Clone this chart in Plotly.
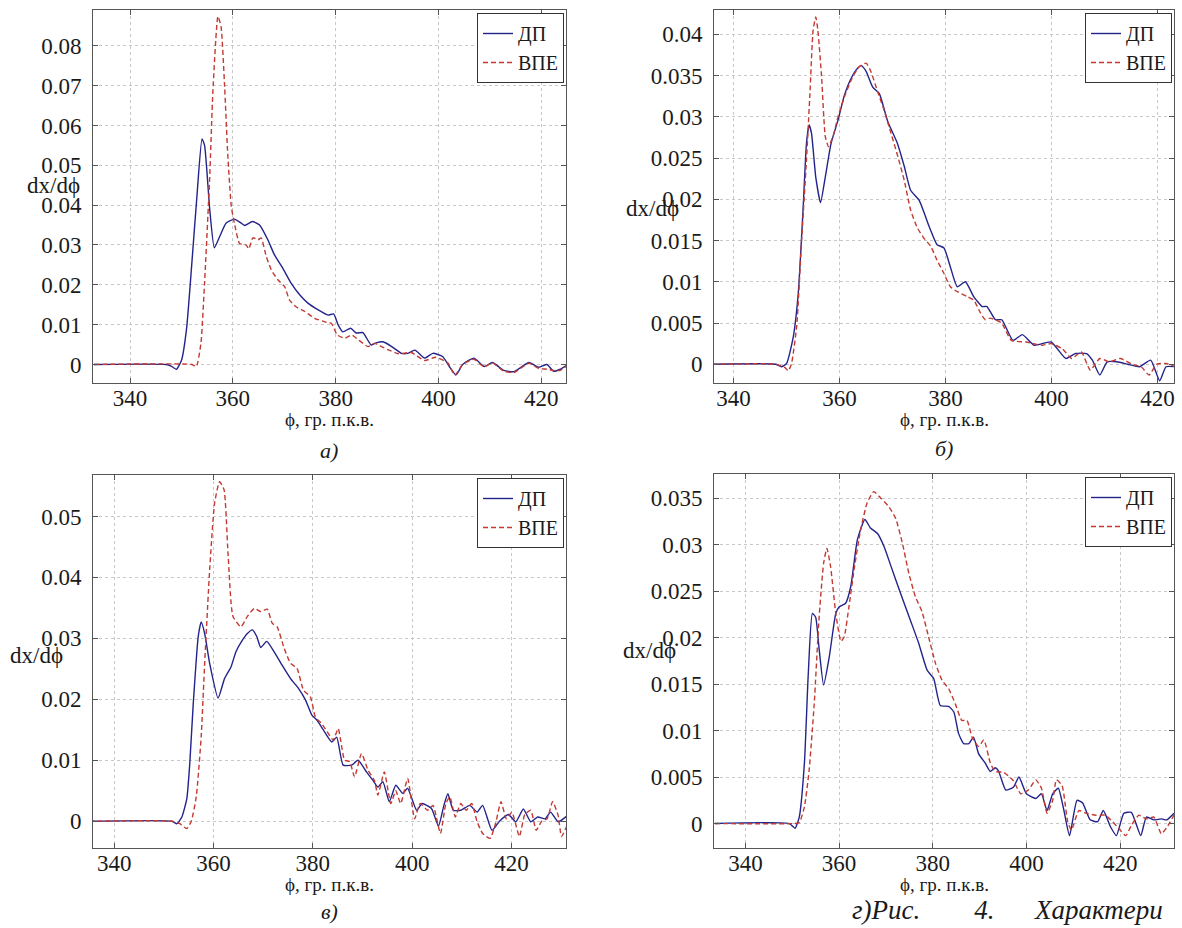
import plotly.graph_objects as go

# ---------------- data ----------------
# panel а)
phi_a_dp = [333, 347, 348, 349, 350, 351, 352, 353, 354, 354.5, 355.5, 356.4, 357.4, 358.7, 360.3, 361.5, 362.3,
            363.8, 365.2, 366.8, 368.1, 369.7, 371.3, 373, 374.6, 376.6, 378.5, 379.6, 380.5, 381.4, 382.9, 384,
            385.3, 386.9, 388, 389.2, 390.9, 392.8, 394, 395.4, 397.3, 398.9, 400.8, 402.1, 403.4, 404.7, 406.9,
            408.9, 410.5, 412.7, 414.7, 417.6, 419.5, 421.1, 422.4, 423.7, 424.8]
val_a_dp = [0, 0, -0.0004, -0.0012, 0.001, 0.009, 0.025, 0.042, 0.0566, 0.055, 0.039, 0.0293, 0.032, 0.0355,
            0.0365, 0.0356, 0.0349, 0.0359, 0.035, 0.0313, 0.0275, 0.0242, 0.0205, 0.0175, 0.0154, 0.0137, 0.0124,
            0.0127, 0.0099, 0.0082, 0.0091, 0.0079, 0.008, 0.0049, 0.0055, 0.0057, 0.0045, 0.0028, 0.0028, 0.0036,
            0.0016, 0.0028, 0.002, -0.0005, -0.0026, 0.0, 0.0016, -0.0005, 0.0005, -0.0015, -0.0018, 0.0005,
            -0.0007, 0.0, -0.0017, -0.0012, -0.0003]
phi_a_vpe = [333, 352, 352.9, 353.8, 354.5, 355.5, 356.1, 357.1, 357.7, 358.4, 359, 359.7, 360.3, 361.3, 362.6,
             363.1, 363.9, 364.9, 365.5, 366.5, 367.5, 368.8, 370.1, 371, 372.3, 374, 375.9, 377.9, 379.2, 380.3,
             381.8, 383.1, 384.4, 386.3, 387.6, 388.9, 390.2, 392.2, 394.7, 397.3, 399.5, 401.8, 403.2, 404.7,
             406.9, 408.9, 410.5, 412.7, 414.7, 417.6, 419.5, 421.1, 422.4, 423.7, 424.8]
val_a_vpe = [0, 0, -0.0005, 0.0054, 0.0205, 0.047, 0.068, 0.0874, 0.0849, 0.0698, 0.053, 0.0397, 0.0355, 0.0304,
             0.030, 0.029, 0.0318, 0.0313, 0.0318, 0.0271, 0.0237, 0.0212, 0.0195, 0.0162, 0.0145, 0.0133, 0.0116,
             0.0107, 0.0103, 0.0074, 0.0066, 0.0074, 0.0062, 0.0045, 0.0053, 0.0045, 0.0037, 0.0027, 0.003, 0.001,
             0.0018, 0.0004, -0.0027, 0.0, 0.0013, -0.0006, 0.0004, -0.0017, -0.002, 0.0003, -0.001, -0.0012,
             -0.0015, -0.0015, -0.0005]

# panel б)
phi_b_dp = [336, 348, 349.1, 350, 351.25, 352.2, 353.1, 353.75, 354.25, 354.7, 355.5, 356.4, 357.3, 358.4, 359.7,
            360.9, 362.2, 363.4, 364.1, 365, 366.25, 367.5, 369.1, 370.9, 372.2, 373.4, 375, 376.9, 378.4, 379.7,
            380.9, 382.2, 383.75, 385.3, 386.9, 387.8, 389.4, 390.6, 392.7, 394.5, 396.7, 399.9, 402.7, 404.5,
            406.6, 407.7, 409.1, 410.5, 412.3, 414.4, 416.6, 418.7, 420.4, 421.6, 423.4]
val_b_dp = [0, 0, -0.0003, 0.0001, 0.0033, 0.0086, 0.0187, 0.0268, 0.029, 0.028, 0.0227, 0.0196, 0.0227, 0.0268,
            0.0296, 0.0326, 0.0347, 0.0359, 0.0362, 0.0355, 0.0336, 0.0328, 0.0294, 0.0268, 0.024, 0.0211, 0.0199,
            0.0167, 0.0145, 0.0141, 0.0118, 0.0094, 0.01, 0.0082, 0.007, 0.007, 0.0054, 0.0054, 0.0029, 0.0036,
            0.0023, 0.0027, 0.0007, 0.0013, 0.0013, 0.0005, -0.0013, 0.0003, 0.0003, 0.0, -0.0003, 0.0005, -0.002,
            -0.0003, -0.0003]
phi_b_vpe = [336, 348, 349.7, 350.3, 350.9, 351.9, 352.8, 353.75, 354.4, 355, 355.5, 355.9, 356.6, 357.3, 357.9,
             358.75, 359.7, 360.9, 362.5, 363.75, 365, 365.9, 367.2, 368.4, 369.7, 370.9, 372.2, 373.4, 374.7,
             375.9, 377.2, 378.4, 379.7, 380.9, 382.2, 384.1, 385.3, 386.6, 387.5, 388.4, 389.7, 390.6, 392.4,
             395.2, 398.1, 399.9, 402, 403.8, 405.6, 407.3, 409.1, 410.9, 413, 415.2, 416.9, 418.4, 419.8, 421.6,
             423.4]
val_b_vpe = [0, 0, -0.0004, -0.0008, 0.0, 0.0046, 0.0147, 0.0248, 0.0328, 0.0405, 0.0421, 0.0405, 0.0349, 0.0276,
             0.0264, 0.0276, 0.030, 0.0324, 0.0349, 0.0361, 0.0365, 0.0355, 0.033, 0.0308, 0.028, 0.0254, 0.0223,
             0.0187, 0.0165, 0.0153, 0.0143, 0.0126, 0.011, 0.0094, 0.0088, 0.0082, 0.0078, 0.0062, 0.0054, 0.0056,
             0.0053, 0.005, 0.0029, 0.0027, 0.0023, 0.0025, 0.0019, 0.0007, 0.0015, -0.0007, 0.0007, 0.0003, 0.0007,
             0.0, -0.0003, -0.0013, 0.0, 0.0001, -0.0003]

# panel в)
phi_c_dp = [335, 351.6, 352.6, 353.6, 354.6, 355.2, 355.9, 356.9, 357.5, 358.2, 359.2, 360.9, 362.2, 363.5, 364.5,
            365.8, 366.8, 367.8, 368.7, 369.5, 370.7, 372.2, 373.8, 375.5, 377.1, 378.5, 379.8, 380.8, 382.1,
            383.8, 384.8, 386.1, 387.8, 389.1, 390.8, 392.1, 393.1, 394.1, 395.4, 396.7, 398.1, 399.1, 400.9, 402,
            403.9, 405.3, 406.4, 407.2, 408.3, 409.8, 411.6, 413.1, 414.2, 416.1, 417.6, 419.4, 420.9, 422.4,
            423.9, 425.3, 426.8, 427.9, 429.4, 431.1]
val_c_dp = [0, 0.0, -0.0004, 0.0007, 0.0037, 0.0095, 0.0193, 0.0303, 0.0327, 0.0308, 0.0259, 0.0202, 0.0234,
            0.0253, 0.0278, 0.0297, 0.0308, 0.0314, 0.0303, 0.0285, 0.0295, 0.0278, 0.0256, 0.0234, 0.0218, 0.0199,
            0.0174, 0.0166, 0.015, 0.013, 0.0138, 0.0092, 0.0092, 0.01, 0.0081, 0.0067, 0.0056, 0.0065, 0.0032,
            0.0059, 0.0046, 0.0054, 0.0018, 0.0029, 0.0021, -0.0008, 0.0026, 0.0045, 0.0018, 0.0018, 0.0026,
            0.0015, 0.0026, -0.0015, 0.0, 0.0011, -0.0001, 0.002, -0.0001, 0.0007, 0.0004, 0.0015, -0.0001, 0.0008]
phi_c_vpe = [335, 351.6, 353.2, 354.6, 355.5, 356.5, 357.5, 358.2, 359.2, 360.2, 361.2, 362.1, 362.9, 363.9, 365.5,
             366.8, 368.2, 369.5, 370.8, 371.8, 372.8, 374.2, 375.5, 376.8, 378.1, 379.5, 380.5, 381.8, 383.1,
             384.1, 385.1, 386.4, 387.4, 388.4, 389.8, 391.1, 392.4, 393.1, 394.4, 395.7, 396.7, 397.7, 399.1,
             400.5, 401.6, 403.1, 404.2, 405.7, 406.8, 407.6, 408.7, 409.8, 410.9, 412, 413.1, 414.2, 415.7, 416.8,
             417.9, 419, 420.1, 421.6, 422.7, 423.9, 425, 426.1, 427.2, 428.3, 429.4, 430.1, 431.1]
val_c_vpe = [0, 0.0, -0.0004, -0.0012, 0.0, 0.004, 0.0139, 0.0259, 0.0412, 0.0522, 0.0557, 0.0544, 0.044, 0.0336,
             0.0319, 0.0336, 0.0349, 0.0344, 0.0348, 0.0325, 0.0319, 0.0284, 0.0259, 0.0251, 0.0215, 0.0204, 0.0171,
             0.016, 0.0144, 0.0133, 0.0152, 0.01, 0.0098, 0.0073, 0.0111, 0.0084, 0.0067, 0.0043, 0.0081, 0.0029,
             0.005, 0.0029, 0.007, 0.0004, 0.0029, 0.0018, 0.0026, -0.002, 0.0029, 0.004, 0.0007, 0.0029, 0.0018,
             0.0029, -0.0001, -0.002, -0.0028, -0.0004, 0.0032, 0.0004, 0.0015, -0.0025, 0.0011, 0.0018, -0.0015,
             0.0, 0.0004, 0.0032, 0.001, -0.0025, -0.0009]

# panel г)
phi_d_dp = [333.5, 349.4, 350.6, 351.5, 352.6, 353.4, 354.3, 355, 355.7, 356.7, 357.9, 359.3, 360, 361.4, 362.5,
            363.9, 365.5, 366.7, 368.2, 369.6, 371, 373.1, 375.2, 377, 378.8, 380.2, 381.6, 383.4, 384.5, 385.5,
            386.6, 387.7, 388.7, 389.8, 391.2, 392.3, 393.3, 394, 395.6, 397.2, 398.4, 400, 402, 403.2, 404.4,
            405.6, 406.8, 408, 409.2, 410.8, 412, 413.6, 415.2, 416.4, 418, 419.2, 420.8, 422.4, 424.4, 425.6,
            427.2, 428.8, 430, 431.5]
val_d_dp = [0, 0, -0.0005, 0.0007, 0.0065, 0.0158, 0.0226, 0.0222, 0.019, 0.0149, 0.0179, 0.0226, 0.0233, 0.0237,
            0.0255, 0.0305, 0.0327, 0.0318, 0.0312, 0.0298, 0.0278, 0.0248, 0.0219, 0.0194, 0.0165, 0.0156, 0.0127,
            0.0126, 0.012, 0.0097, 0.0086, 0.0086, 0.0093, 0.0075, 0.0065, 0.0056, 0.006, 0.0057, 0.0036, 0.0039,
            0.005, 0.0032, 0.0027, 0.0032, 0.0014, 0.0032, 0.0038, 0.0014, -0.0013, 0.0025, 0.0022, 0.0004, 0.0002,
            0.0014, -0.0004, -0.0013, 0.0011, 0.0012, -0.0013, 0.0007, 0.0004, 0.0005, 0.0004, 0.0011]
phi_d_vpe = [333.5, 350.4, 351.5, 352.6, 353.6, 354.7, 355.7, 356.7, 357.4, 358.2, 359.3, 360.4, 361.1, 362.1,
             363.2, 364.6, 366, 367.4, 368.9, 370.6, 372.1, 373.5, 374.9, 376.3, 377.7, 379.1, 380.6, 382, 383.4,
             384.8, 386.2, 387.3, 388.4, 389.8, 390.9, 392.3, 393.3, 395.2, 397.2, 398.8, 400.4, 402, 403.2, 404.4,
             405.6, 406.4, 407.6, 408.8, 409.6, 411.2, 412.8, 414.8, 416.8, 418.4, 420, 421.2, 422.4, 424, 425.6,
             427.2, 428.8, 430, 431.5]
val_d_vpe = [0, 0, 0.0001, 0.0018, 0.0057, 0.0129, 0.0219, 0.028, 0.0296, 0.0276, 0.0226, 0.0196, 0.0201, 0.0233,
             0.0273, 0.0316, 0.0345, 0.0357, 0.035, 0.0341, 0.0328, 0.0302, 0.0269, 0.0244, 0.0228, 0.0201, 0.0172,
             0.0154, 0.0145, 0.0129, 0.0111, 0.0111, 0.0093, 0.0083, 0.009, 0.0065, 0.0056, 0.0055, 0.0046, 0.0032,
             0.0036, 0.0047, 0.0038, 0.0011, 0.0025, 0.0047, 0.0041, 0.0002, -0.0007, 0.0014, 0.0011, 0.0009, 0.0009,
             0.0002, -0.0007, -0.0013, -0.0002, 0.0009, 0.0005, 0.0007, -0.0011, -0.0004, 0.0009]

series_names = ["ДП", "ВПЕ"]
x_tick_vals = [340, 360, 380, 400, 420]
x_tick_text = ["340", "360", "380", "400", "420"]
y_ticks_a = [0, 0.01, 0.02, 0.03, 0.04, 0.05, 0.06, 0.07, 0.08]
y_text_a = ["0", "0.01", "0.02", "0.03", "0.04", "0.05", "0.06", "0.07", "0.08"]
y_ticks_b = [0, 0.005, 0.01, 0.015, 0.02, 0.025, 0.03, 0.035, 0.04]
y_text_b = ["0", "0.005", "0.01", "0.015", "0.02", "0.025", "0.03", "0.035", "0.04"]
y_ticks_c = [0, 0.01, 0.02, 0.03, 0.04, 0.05]
y_text_c = ["0", "0.01", "0.02", "0.03", "0.04", "0.05"]
y_ticks_d = [0, 0.005, 0.01, 0.015, 0.02, 0.025, 0.03, 0.035]
y_text_d = ["0", "0.005", "0.01", "0.015", "0.02", "0.025", "0.03", "0.035"]
x_title = "ϕ, гр. п.к.в."
y_title = "dx/dϕ"
captions = ["а)", "б)", "в)"]
NB = "\u00a0"
caption_d = "г)Рис." + NB * 8 + "4." + NB * 6 + "Характери"

# ---------------- figure ----------------
W, H = 1182, 928
FONT = "Liberation Serif, Times New Roman, serif"
INK = "#1a1a1a"
BLUE = "#23238c"
RED = "#c23a32"

panels = [
    (phi_a_dp, val_a_dp, phi_a_vpe, val_a_vpe, [332.8, 424.8], [-0.00465, 0.0890], y_ticks_a, y_text_a, 93, 566, 10, 383),
    (phi_b_dp, val_b_dp, phi_b_vpe, val_b_vpe, [336.3, 423.1], [-0.00227, 0.04295], y_ticks_b, y_text_b, 714, 1174, 10, 383),
    (phi_c_dp, val_c_dp, phi_c_vpe, val_c_vpe, [335.7, 431.0], [-0.00439, 0.0568], y_ticks_c, y_text_c, 93, 566, 475, 848),
    (phi_d_dp, val_d_dp, phi_d_vpe, val_d_vpe, [333.3, 431.5], [-0.00263, 0.0376], y_ticks_d, y_text_d, 714, 1174, 474, 848),
]

fig = go.Figure()
layout = dict(
    width=W, height=H, margin=dict(l=0, r=0, t=0, b=0, autoexpand=False),
    paper_bgcolor="white", plot_bgcolor="white",
    font=dict(family=FONT, size=23, color=INK),
    showlegend=True,
)
annotations = []

for i, (xd, yd, xv, yv, xr, yr, yt, ytt, L, R, T, B) in enumerate(panels):
    n = i + 1
    xa = "x" if n == 1 else f"x{n}"
    ya = "y" if n == 1 else f"y{n}"
    lg = "legend" if n == 1 else f"legend{n}"
    fig.add_trace(go.Scatter(x=xd, y=yd, mode="lines", name=series_names[0], xaxis=xa, yaxis=ya, legend=lg,
                             line=dict(color=BLUE, width=1.4, shape="spline", smoothing=0.5)))
    fig.add_trace(go.Scatter(x=xv, y=yv, mode="lines", name=series_names[1], xaxis=xa, yaxis=ya, legend=lg,
                             line=dict(color=RED, width=1.4, dash="5px,3px", shape="spline", smoothing=0.5)))
    xdom = [L / W, R / W]
    ydom = [1 - B / H, 1 - T / H]
    axis_common = dict(showline=True, mirror="ticks", linecolor="#555", linewidth=1,
                       ticks="inside", ticklen=5, tickcolor="#555",
                       showgrid=True, gridcolor="#c8c8c8", griddash="dot", gridwidth=1,
                       zeroline=False, tickfont=dict(family=FONT, size=23, color=INK))
    layout["xaxis" if n == 1 else f"xaxis{n}"] = dict(
        domain=xdom, range=xr, anchor=ya, tickvals=x_tick_vals, ticktext=x_tick_text,
        ticklabelstandoff=-6, **axis_common)
    layout["yaxis" if n == 1 else f"yaxis{n}"] = dict(
        domain=ydom, range=yr, anchor=xa, tickvals=yt, ticktext=ytt, ticklabelstandoff=6, **axis_common)
    layout[lg] = dict(x=(R - 2) / W, y=1 - (T + 3) / H, xanchor="right", yanchor="top",
                      bgcolor="white", bordercolor="#333", borderwidth=1,
                      font=dict(family=FONT, size=20, color=INK),
                      itemwidth=30, tracegroupgap=0)
    cx = (L + R) / 2 / W
    annotations.append(dict(text=x_title, x=cx, y=1 - (B + 36) / H, xref="paper", yref="paper",
                            showarrow=False, font=dict(family=FONT, size=19, color=INK),
                            xanchor="center", yanchor="middle"))

# y labels (dx/dϕ)
ylab_pos = [(53, 185), (652, 208), (36, 655), (650, 650)]
for (px, py) in ylab_pos:
    annotations.append(dict(text=y_title, x=px / W, y=1 - py / H, xref="paper", yref="paper",
                            showarrow=False, font=dict(family=FONT, size=23, color=INK),
                            xanchor="center", yanchor="middle"))

# captions
cap_pos = [(329, 450), (944, 448), (329, 911)]
for txt, (px, py) in zip(captions, cap_pos):
    annotations.append(dict(text=f"<i>{txt}</i>", x=px / W, y=1 - py / H, xref="paper", yref="paper",
                            showarrow=False, font=dict(family=FONT, size=22, color=INK),
                            xanchor="center", yanchor="middle"))
annotations.append(dict(text=f"<i>{caption_d}</i>", x=850 / W, y=1 - 910 / H, xref="paper", yref="paper",
                        showarrow=False, font=dict(family=FONT, size=27, color=INK),
                        xanchor="left", yanchor="middle"))

layout["annotations"] = annotations
fig.update_layout(**layout)
fig.write_html("out.html", config={"displayModeBar": False},
               post_script="document.body.style.margin='0px';document.body.style.padding='0px';"
                           "document.documentElement.style.overflow='hidden';")
